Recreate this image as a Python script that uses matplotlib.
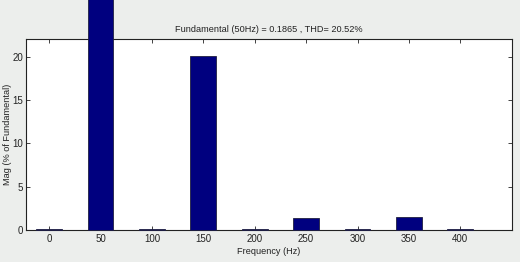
import matplotlib
matplotlib.use("Agg")
import matplotlib.pyplot as plt

freqs = [0, 50, 100, 150, 200, 250, 300, 350, 400]
mags = [0.1, 100.0, 0.1, 20.1, 0.1, 1.35, 0.1, 1.45, 0.1]
xticks = [0, 50, 100, 150, 200, 250, 300, 350, 400]
yticks = [0, 5, 10, 15, 20]
title = "Fundamental (50Hz) = 0.1865 , THD= 20.52%"

plt.rcParams['font.family'] = ['Liberation Sans', 'DejaVu Sans']
plt.rcParams['font.size'] = 7

fig = plt.figure(figsize=(5.2, 2.62), dpi=100, facecolor='#eceeec')
ax = fig.add_axes([25.5 / 520, 1 - 230 / 262, (511.7 - 25.5) / 520, (230 - 38.5) / 262])
ax.set_facecolor('white')

bars = ax.bar(freqs, mags, width=25, color='#00007f', edgecolor='#202040',
              linewidth=0.6, zorder=3)
for b in bars:
    b.set_clip_on(False)

ax.set_xlim(-23, 450)
ax.set_ylim(0, 22.1)
ax.set_xticks(xticks)
ax.set_yticks(yticks)
ax.tick_params(direction='in', top=True, right=True, length=3, width=0.6,
               labelsize=7, colors='#222222')
ax.tick_params(axis='y', pad=1.8)
ax.tick_params(axis='x', pad=3)
for s in ax.spines.values():
    s.set_linewidth(0.8)
    s.set_color('#222222')

ax.set_title(title, fontsize=6.6, pad=5, color='#222222')
ax.set_xlabel("Frequency (Hz)", fontsize=6.6, labelpad=2, color='#222222')
fig.text(7.5 / 520, 1 - 134 / 262, "Mag (% of Fundamental)", rotation=90,
         ha='center', va='center', fontsize=6.6, color='#222222')

fig.savefig("out.png", dpi=100, facecolor=fig.get_facecolor())
